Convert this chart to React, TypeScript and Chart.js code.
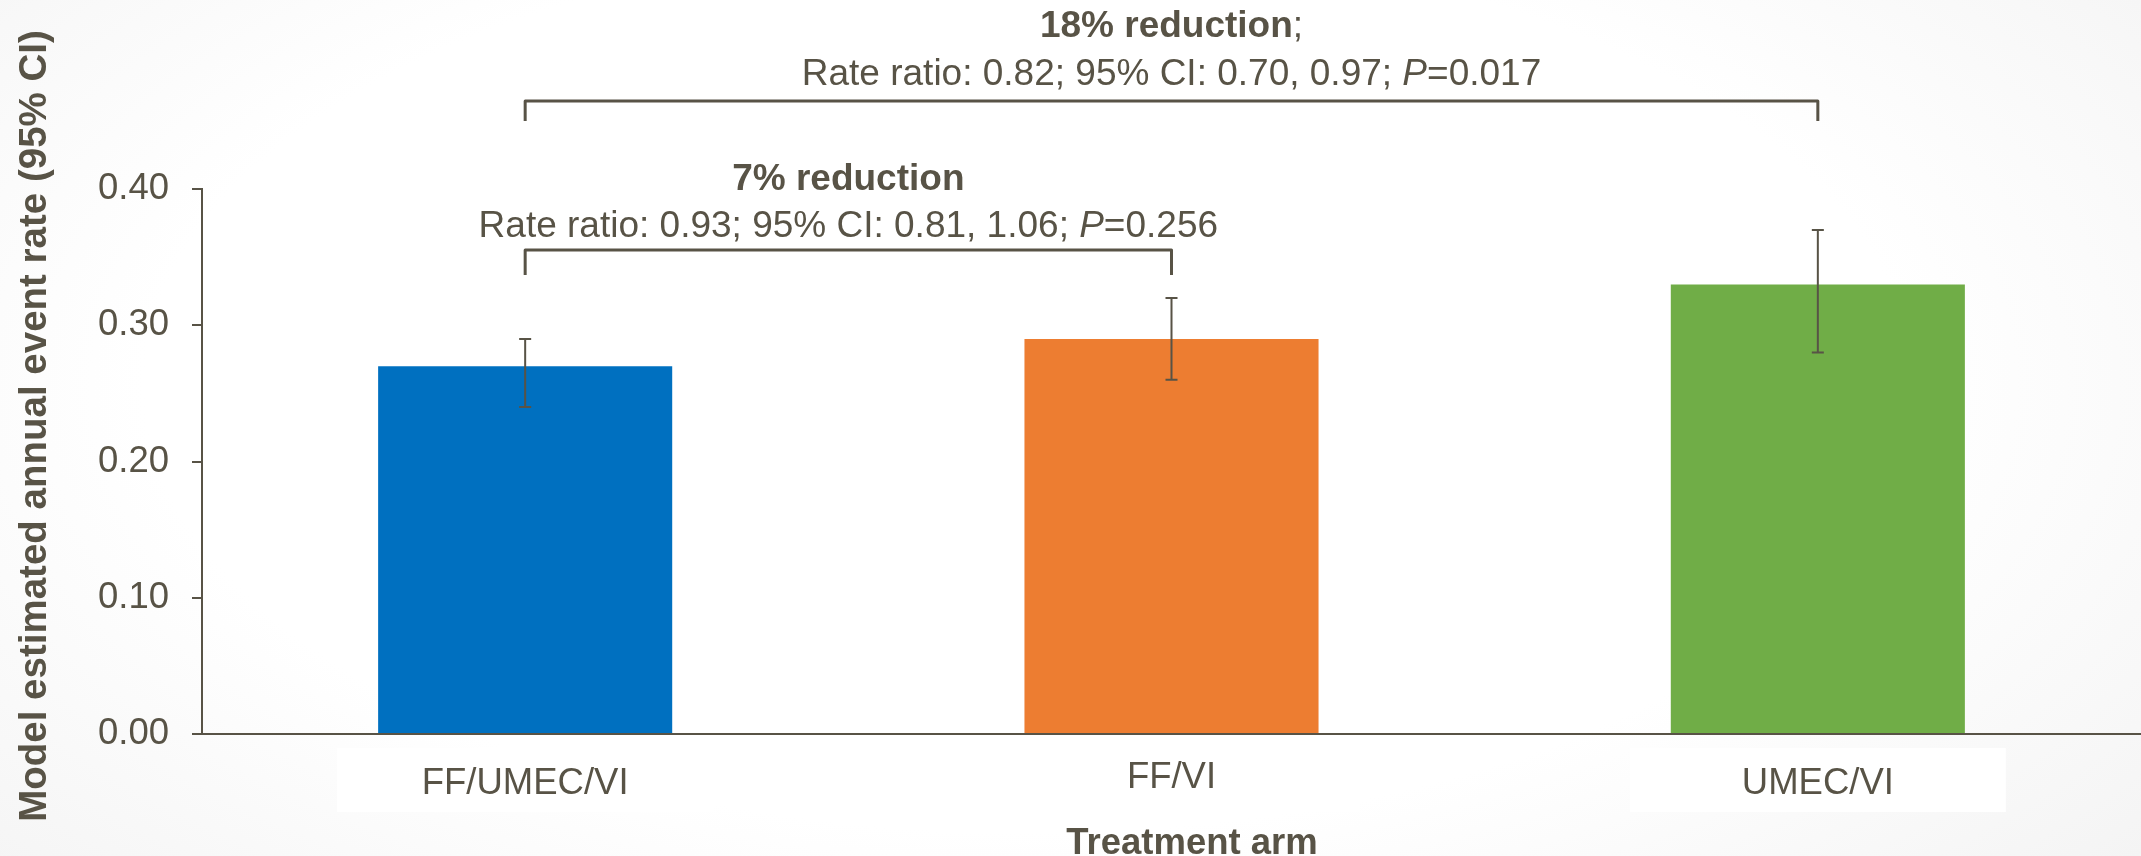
import React, { useEffect, useRef } from "react";
import { Chart, registerables } from "chart.js";

Chart.register(...registerables);

// ---------- data ----------
const categories = ["FF/UMEC/VI", "FF/VI", "UMEC/VI"];
const rates = [0.27, 0.29, 0.33];
const ciLow = [0.24, 0.26, 0.28];
const ciHigh = [0.29, 0.32, 0.37];
const yTickValues = [0, 0.1, 0.2, 0.3, 0.4];

const comparisonPairs = [
  [0, 1],
  [0, 2],
];
const comparisonHeadline = ["7% reduction", "18% reduction"];
const comparisonHeadlineSuffix = ["", ";"];
const comparisonStats = [
  "Rate ratio: 0.93; 95% CI: 0.81, 1.06; ",
  "Rate ratio: 0.82; 95% CI: 0.70, 0.97; ",
];
const comparisonPValue = ["=0.256", "=0.017"];

const yAxisTitle = "Model estimated annual event rate (95% CI)";
const xAxisTitle = "Treatment arm";

// ---------- style / layout ----------
const TEXT = "#585346";
const FAMILY = '"Liberation Sans", Arial, Helvetica, sans-serif';
const barColors = ["#0070C0", "#ED7D31", "#70AD47"];
const BRACKET_TOP = [250, 101];
const BRACKET_BOTTOM = [275, 121];
const HEADLINE_BASELINE = [190, 37];
const STATS_BASELINE = [237, 85];
const CATEGORY_BASELINE = [794, 788, 794];
const LABEL_BOX_HALF = 188;

const overlay = {
  id: "overlay",
  beforeDraw(chart: any) {
    const ctx = chart.ctx;
    const meta = chart.getDatasetMeta(0);
    ctx.save();
    ctx.fillStyle = "#ffffff";
    meta.data.forEach((bar: any) => {
      ctx.fillRect(bar.x - LABEL_BOX_HALF, 748, LABEL_BOX_HALF * 2, 64);
    });
    ctx.restore();
  },
  afterDatasetsDraw(chart: any) {
    const ctx = chart.ctx;
    const yScale = chart.scales.y;
    const meta = chart.getDatasetMeta(0);
    const xs = meta.data.map((b: any) => b.x);

    ctx.save();
    // error bars
    ctx.strokeStyle = TEXT;
    ctx.lineWidth = 2;
    xs.forEach((x: number, i: number) => {
      const yl = yScale.getPixelForValue(ciLow[i]);
      const yh = yScale.getPixelForValue(ciHigh[i]);
      ctx.beginPath();
      ctx.moveTo(x, yl);
      ctx.lineTo(x, yh);
      ctx.moveTo(x - 6, yl);
      ctx.lineTo(x + 6, yl);
      ctx.moveTo(x - 6, yh);
      ctx.lineTo(x + 6, yh);
      ctx.stroke();
    });

    // category labels
    ctx.fillStyle = TEXT;
    ctx.font = `36.5px ${FAMILY}`;
    ctx.textAlign = "center";
    ctx.textBaseline = "alphabetic";
    categories.forEach((c, i) => {
      ctx.fillText(c, xs[i], CATEGORY_BASELINE[i]);
    });

    // brackets + annotations
    comparisonPairs.forEach(([a, b], k) => {
      const x1 = xs[a];
      const x2 = xs[b];
      ctx.strokeStyle = TEXT;
      ctx.lineWidth = 3;
      ctx.lineJoin = "round";
      ctx.beginPath();
      ctx.moveTo(x1, BRACKET_BOTTOM[k]);
      ctx.lineTo(x1, BRACKET_TOP[k]);
      ctx.lineTo(x2, BRACKET_TOP[k]);
      ctx.lineTo(x2, BRACKET_BOTTOM[k]);
      ctx.stroke();

      const cx = (x1 + x2) / 2;
      ctx.textAlign = "left";
      const boldFont = `bold 37px ${FAMILY}`;
      const regFont = `37px ${FAMILY}`;
      const itFont = `italic 37px ${FAMILY}`;
      ctx.font = boldFont;
      const w1 = ctx.measureText(comparisonHeadline[k]).width;
      ctx.font = regFont;
      const w2 = ctx.measureText(comparisonHeadlineSuffix[k]).width;
      let sx = cx - (w1 + w2) / 2;
      ctx.font = boldFont;
      ctx.fillText(comparisonHeadline[k], sx, HEADLINE_BASELINE[k]);
      ctx.font = regFont;
      ctx.fillText(comparisonHeadlineSuffix[k], sx + w1, HEADLINE_BASELINE[k]);

      ctx.font = regFont;
      const s1 = ctx.measureText(comparisonStats[k]).width;
      const s3 = ctx.measureText(comparisonPValue[k]).width;
      ctx.font = itFont;
      const s2 = ctx.measureText("P").width;
      sx = cx - (s1 + s2 + s3) / 2;
      ctx.font = regFont;
      ctx.fillText(comparisonStats[k], sx, STATS_BASELINE[k]);
      ctx.font = itFont;
      ctx.fillText("P", sx + s1, STATS_BASELINE[k]);
      ctx.font = regFont;
      ctx.fillText(comparisonPValue[k], sx + s1 + s2, STATS_BASELINE[k]);
    });

    // axis titles
    ctx.fillStyle = TEXT;
    ctx.font = `bold 36.5px ${FAMILY}`;
    ctx.textAlign = "center";
    ctx.textBaseline = "alphabetic";
    ctx.fillText(xAxisTitle, 1192, 854);

    ctx.save();
    ctx.translate(35, 426);
    ctx.rotate(-Math.PI / 2);
    ctx.font = `bold 38.5px ${FAMILY}`;
    ctx.textBaseline = "middle";
    ctx.fillText(yAxisTitle, 0, 0);
    ctx.restore();

    ctx.restore();
  },
};

export default function App() {
  const canvasRef = useRef<HTMLCanvasElement | null>(null);

  useEffect(() => {
    document.body.style.margin = "0";
    const canvas = canvasRef.current;
    if (!canvas) return;
    const chart = new Chart(canvas, {
      type: "bar",
      data: {
        labels: categories,
        datasets: [
          {
            data: rates,
            backgroundColor: barColors,
            borderWidth: 0,
            barPercentage: 0.455,
            categoryPercentage: 1,
          },
        ],
      },
      options: {
        animation: false,
        responsive: true,
        maintainAspectRatio: false,
        devicePixelRatio: 1,
        layout: { padding: { top: 189, left: 0, right: 0, bottom: 0 } },
        plugins: {
          legend: { display: false },
          tooltip: { enabled: false },
          title: { display: false },
        },
        scales: {
          x: {
            type: "category",
            offset: true,
            grid: { display: false, drawTicks: false },
            border: { display: true, color: TEXT, width: 2 },
            ticks: { display: false },
            afterFit(scale: any) {
              scale.height = 122;
            },
          },
          y: {
            min: 0,
            max: 0.4,
            afterBuildTicks(scale: any) {
              scale.ticks = yTickValues.map((v) => ({ value: v }));
            },
            ticks: {
              color: TEXT,
              font: { family: FAMILY, size: 36.5 },
              padding: 23,
              callback: (v: any) => Number(v).toFixed(2),
            },
            grid: {
              drawOnChartArea: false,
              drawTicks: true,
              tickLength: 10,
              color: TEXT,
              lineWidth: 2,
            },
            border: { display: true, color: TEXT, width: 2 },
            afterFit(scale: any) {
              scale.width = 202;
            },
          },
        },
      } as any,
      plugins: [overlay],
    });
    return () => chart.destroy();
  }, []);

  return (
    <div
      style={{
        width: 2141,
        height: 856,
        position: "relative",
        background:
          "radial-gradient(ellipse 75% 95% at 48% 45%, #ffffff 55%, #f1f1f1 100%)",
      }}
    >
      <canvas ref={canvasRef} style={{ display: "block" }} />
    </div>
  );
}
